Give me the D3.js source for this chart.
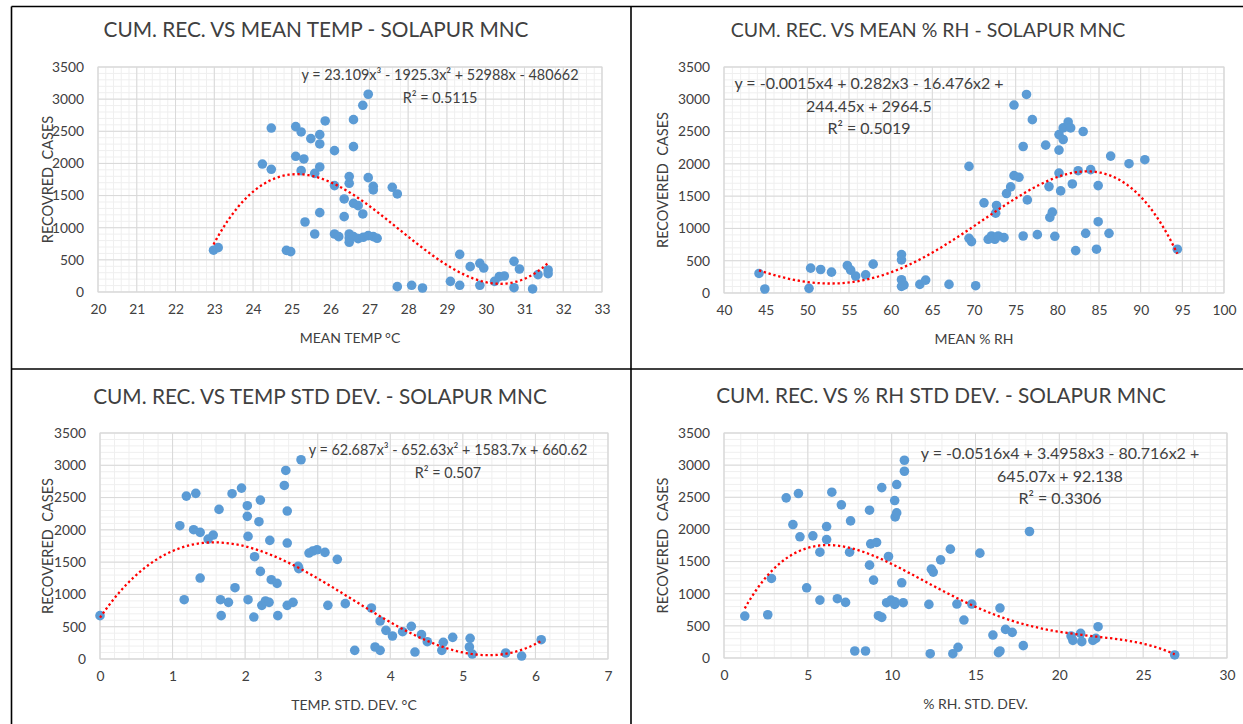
<!DOCTYPE html>
<html>
<head>
<meta charset="utf-8">
<script src="https://cdn.jsdelivr.net/npm/d3@7"></script>
<style>
  body { margin: 0; background: #fff; }
  text { font-family: Lato, "Open Sans", sans-serif; white-space: pre; }
</style>
</head>
<body>
<svg id="chart" width="1243" height="724"></svg>
<script>
// mean temperature vs recovered cases
const meanTemp = [22.98, 23.1, 24.24, 24.47, 24.47, 24.86, 24.97, 25.1, 25.1, 25.24, 25.24, 25.31, 25.34, 25.49,
  25.59, 25.59, 25.72, 25.72, 25.72, 25.72, 25.86, 26.1, 26.1, 26.1, 26.21, 26.35, 26.35, 26.48, 26.48, 26.48,
  26.48, 26.48, 26.59, 26.59, 26.59, 26.59, 26.71, 26.71, 26.83, 26.83, 26.84, 26.97, 26.97, 26.97, 27.1, 27.1,
  27.1, 27.2, 27.59, 27.72, 27.72, 28.09, 28.37, 29.09, 29.33, 29.33, 29.6, 29.85, 29.95, 29.85, 30.23, 30.35,
  30.48, 30.73, 30.73, 30.87, 31.21, 31.35, 31.61, 31.61];
const recTemp = [650, 690, 1990, 2550, 1909, 648, 628, 2573, 2111, 2490, 1888, 2070, 1089, 2386,
  902, 1846, 2448, 2303, 1945, 1234, 2661, 2199, 1655, 902, 861, 1447, 1172, 1795, 1691, 902,
  840, 773, 2681, 2261, 1380, 861, 1343, 830, 2904, 1214, 851, 3076, 1779, 877, 1644, 1587,
  861, 835, 1629, 1525, 83, 104, 62, 166, 586, 104, 394, 446, 373, 104, 166, 239,
  249, 477, 67, 358, 47, 270, 342, 285];

// mean relative humidity vs recovered cases
const meanRH = [44.2, 44.9, 50.2, 50.4, 51.6, 52.9, 54.8, 55.2, 55.8, 57.0, 57.9, 61.3, 61.3, 61.3, 61.5, 61.3,
  61.6, 63.5, 64.2, 67.0, 69.4, 69.4, 69.7, 70.2, 71.2, 71.7, 72.1, 72.5, 72.6, 72.7, 72.9, 73.6, 73.9, 74.4,
  74.8, 74.8, 75.4, 75.9, 75.9, 76.3, 76.4, 77.0, 77.6, 78.6, 79.0, 79.1, 79.4, 79.7, 80.2, 80.2, 80.2, 80.4,
  80.7, 80.7, 81.3, 81.6, 81.8, 82.2, 82.5, 83.1, 83.4, 84.0, 84.7, 84.9, 84.9, 86.2, 86.4, 88.6, 90.5, 94.4];
const recRH = [303, 62, 72, 385, 364, 323, 426, 354, 262, 282, 447, 595, 513, 205, 139, 103,
  123, 133, 200, 133, 1961, 847, 796, 113, 1396, 832, 883, 832, 1237, 1355, 883, 857, 1540, 1643,
  2911, 1817, 1792, 2269, 883, 3075, 1442, 2685, 904, 2290, 1648, 1170, 1252, 878, 2454, 2213, 1858, 1581,
  2557, 2377, 2649, 2557, 1689, 657, 1894, 2500, 924, 1910, 678, 1663, 1104, 924, 2120, 2002, 2064, 678];

// temperature standard deviation vs recovered cases
const tempStd = [0, 1.10, 1.16, 1.19, 1.29, 1.32, 1.38, 1.38, 1.49, 1.56, 1.64, 1.66, 1.67, 1.77, 1.82, 1.86,
  1.95, 2.03, 2.03, 2.04, 2.04, 2.12, 2.13, 2.19, 2.21, 2.21, 2.23, 2.28, 2.33, 2.34, 2.36, 2.44, 2.45, 2.54,
  2.56, 2.58, 2.58, 2.58, 2.66, 2.73, 2.74, 2.77, 2.88, 2.93, 2.99, 3.10, 3.14, 3.27, 3.38, 3.51, 3.74, 3.79,
  3.86, 3.86, 3.94, 4.03, 4.17, 4.29, 4.34, 4.43, 4.51, 4.71, 4.73, 4.86, 5.09, 5.10, 5.13, 5.59, 5.81, 6.08];
const recTempStd = [671, 2064, 918, 2523, 2002, 2565, 1961, 1254, 1858, 1920, 2317, 918, 671, 877, 2560, 1104,
  2647, 2374, 2209, 1899, 918, 650, 1584, 2126, 2461, 1357, 831, 898, 877, 1837, 1228, 1171, 671, 2688,
  2920, 831, 2291, 1796, 877, 1434, 1398, 3086, 1641, 1672, 1692, 1651, 831, 1543, 857, 134, 790, 186,
  588, 134, 444, 356, 423, 506, 108, 377, 268, 134, 258, 335, 186, 320, 77, 93, 46, 299];

// relative humidity standard deviation vs recovered cases
const rhStd = [1.24, 2.61, 2.83, 3.71, 4.11, 4.44, 4.53, 4.93, 5.30, 5.72, 5.72, 6.12, 6.12, 6.43, 6.76, 7.0,
  7.25, 7.55, 7.49, 7.80, 8.44, 8.68, 8.68, 8.75, 9.10, 8.92, 9.21, 9.41, 9.41, 9.70, 9.81, 9.96, 10.18, 10.18,
  10.18, 10.21, 10.30, 10.30, 10.60, 10.69, 10.76, 10.76, 12.22, 12.30, 12.37, 12.48, 12.92, 13.50, 13.65, 13.89,
  13.96, 14.31, 14.78, 15.26, 16.04, 16.37, 16.46, 16.46, 16.79, 17.19, 17.85, 18.22, 20.70, 20.81, 21.27, 21.34,
  22.0, 22.18, 22.31, 26.88];
const recRhStd = [652, 673, 1237, 2491, 2076, 2558, 1885, 1092, 1900, 1646, 901, 2045, 1843, 2579, 922, 2382,
  865, 2133, 1646, 109, 109, 2299, 1444, 1776, 1797, 1212, 658, 632, 2651, 860, 1579, 901, 875, 834,
  2449, 2195, 2257, 2698, 1170, 860, 3076, 2905, 834, 67, 1382, 1336, 1527, 1693, 67, 839,
  166, 590, 839, 1631, 357, 83, 109, 777, 445, 399, 192, 1968, 342, 274, 383, 254,
  274, 305, 487, 47];

const titles = [
  "CUM. REC. VS MEAN TEMP - SOLAPUR MNC",
  "CUM. REC. VS MEAN % RH - SOLAPUR MNC",
  "CUM. REC. VS TEMP STD DEV. - SOLAPUR MNC",
  "CUM. REC. VS % RH STD DEV. - SOLAPUR MNC"
];
const xTitles = ["MEAN TEMP \u00B0C", "MEAN % RH", "TEMP. STD. DEV. \u00B0C", "% RH. STD. DEV."];
const yTitles = ["RECOVRED  CASES", "RECOVERED  CASES", "RECOVERED  CASES", "RECOVERED  CASES"];
const equations = [
  ["y = 23.109x\u00B3 - 1925.3x\u00B2 + 52988x - 480662", "R\u00B2 = 0.5115"],
  ["y = -0.0015x4 + 0.282x3 - 16.476x2 +", "244.45x + 2964.5", "R\u00B2 = 0.5019"],
  ["y = 62.687x\u00B3 - 652.63x\u00B2 + 1583.7x + 660.62", "R\u00B2 = 0.507"],
  ["y = -0.0516x4 + 3.4958x3 - 80.716x2 +", "645.07x + 92.138", "R\u00B2 = 0.3306"]
];
const xDomains = [[20, 33], [40, 100], [0, 7], [0, 30]];
const xSteps = [1, 5, 1, 5];
const yDomain = [0, 3500];
const yStep = 500;
const fitDegrees = [3, 4, 3, 4];

const svg = d3.select("#chart");

// panel frames
const frame = svg.append("g")
    .attr("stroke", "#000")
    .attr("stroke-width", 1.6)
frame.append("line").attr("x1", 11.5).attr("y1", 6.5).attr("x2", 1243).attr("y2", 6.5)
frame.append("line").attr("x1", 11.5).attr("y1", 6.5).attr("x2", 11.5).attr("y2", 724)
frame.append("line").attr("x1", 631).attr("y1", 6.5).attr("x2", 631).attr("y2", 724)
frame.append("line").attr("x1", 11.5).attr("y1", 369).attr("x2", 1243).attr("y2", 369)

// least squares polynomial, x normalised to keep it stable
function polyFit(xs, ys, deg) {
    const m = d3.mean(xs), s = d3.deviation(xs);
    const n = deg + 1;
    const A = Array.from({length: n}, () => new Array(n + 1).fill(0));
    xs.forEach((x, k) => {
        const t = (x - m) / s;
        const p = [];
        for (let i = 0; i < n; i++) p.push(Math.pow(t, i));
        for (let i = 0; i < n; i++) {
            for (let j = 0; j < n; j++) A[i][j] += p[i] * p[j];
            A[i][n] += p[i] * ys[k];
        }
    });
    for (let c = 0; c < n; c++) {
        let piv = c;
        for (let r = c + 1; r < n; r++) if (Math.abs(A[r][c]) > Math.abs(A[piv][c])) piv = r;
        [A[c], A[piv]] = [A[piv], A[c]];
        for (let r = 0; r < n; r++) {
            if (r === c) continue;
            const f = A[r][c] / A[c][c];
            for (let j = c; j <= n; j++) A[r][j] -= f * A[c][j];
        }
    }
    const coef = A.map((row, i) => row[n] / row[i]);
    return x => {
        const t = (x - m) / s;
        return coef.reduce((acc, c, i) => acc + c * Math.pow(t, i), 0);
    };
}

const panels = [
    {xs: meanTemp, ys: recTemp, left: 98, right: 602, top: 67, bottom: 292, cx: 316, titleY: 37, titleSize: 20.8,
        yTitleX: 48, eqX: 440, eqY: 80, eqSize: 14.4},
    {xs: meanRH, ys: recRH, left: 724, right: 1224, top: 67, bottom: 293, cx: 928, titleY: 37, titleSize: 19.5,
        yTitleX: 663, eqX: 869, eqY: 89, eqSize: 16},
    {xs: tempStd, ys: recTempStd, left: 100, right: 608, top: 433, bottom: 659, cx: 320, titleY: 404, titleSize: 20.8,
        yTitleX: 48, eqX: 448, eqY: 455, eqSize: 14.4},
    {xs: rhStd, ys: recRhStd, left: 724, right: 1227, top: 433, bottom: 658, cx: 941, titleY: 403, titleSize: 20.8,
        yTitleX: 663, eqX: 1060, eqY: 459, eqSize: 16}
];

panels.forEach((p, i) => {
    const g = svg.append("g");
    const x = d3.scaleLinear().domain(xDomains[i]).range([p.left, p.right]);
    const y = d3.scaleLinear().domain(yDomain).range([p.bottom, p.top]);

    const xMinor = d3.range(xDomains[i][0], xDomains[i][1] + 1e-9, xSteps[i] / 5);
    const yMinor = d3.range(yDomain[0], yDomain[1] + 1e-9, yStep / 5);
    const xMajor = d3.range(xDomains[i][0], xDomains[i][1] + 1e-9, xSteps[i]);
    const yMajor = d3.range(yDomain[0], yDomain[1] + 1e-9, yStep);

    // minor gridlines
    g.append("g").selectAll("line").data(xMinor).join("line")
        .attr("x1", d => x(d)).attr("x2", d => x(d))
        .attr("y1", p.top).attr("y2", p.bottom)
        .attr("stroke", "#efefef").attr("stroke-width", 1)
    g.append("g").selectAll("line").data(yMinor).join("line")
        .attr("x1", p.left).attr("x2", p.right)
        .attr("y1", d => y(d)).attr("y2", d => y(d))
        .attr("stroke", "#efefef").attr("stroke-width", 1)

    // major gridlines
    g.append("g").selectAll("line").data(xMajor).join("line")
        .attr("x1", d => x(d)).attr("x2", d => x(d))
        .attr("y1", p.top).attr("y2", p.bottom)
        .attr("stroke", "#d9d9d9").attr("stroke-width", 1)
    g.append("g").selectAll("line").data(yMajor).join("line")
        .attr("x1", p.left).attr("x2", p.right)
        .attr("y1", d => y(d)).attr("y2", d => y(d))
        .attr("stroke", "#d9d9d9").attr("stroke-width", 1)

    g.append("rect")
        .attr("x", p.left).attr("y", p.top)
        .attr("width", p.right - p.left).attr("height", p.bottom - p.top)
        .attr("fill", "none").attr("stroke", "#d9d9d9")

    // axes (labels only, Excel style)
    const xAxis = g.append("g")
        .attr("transform", `translate(0,${p.bottom})`)
        .call(d3.axisBottom(x).tickValues(xMajor).tickSize(0).tickPadding(12).tickFormat(d3.format("d")))
    const yAxis = g.append("g")
        .attr("transform", `translate(${p.left},0)`)
        .call(d3.axisLeft(y).tickValues(yMajor).tickSize(0).tickPadding(14).tickFormat(d3.format("d")))
    ;[xAxis, yAxis].forEach(a => {
        a.select(".domain").remove();
        a.selectAll("text")
            .style("font-family", "Lato, sans-serif")
            .style("font-size", "13.8px")
            .attr("fill", "#404040")
    })

    // points
    g.append("g").selectAll("circle")
        .data(p.xs.map((d, k) => [d, p.ys[k]]))
        .join("circle")
        .attr("cx", d => x(d[0]))
        .attr("cy", d => y(d[1]))
        .attr("r", 4.8)
        .attr("fill", "#5b9bd5")

    // polynomial trendline
    const f = polyFit(p.xs, p.ys, fitDegrees[i]);
    const [lo, hi] = d3.extent(p.xs);
    const samples = d3.range(0, 121).map(k => lo + (hi - lo) * k / 120);
    g.append("path")
        .datum(samples)
        .attr("d", d3.line().x(d => x(d)).y(d => y(f(d))))
        .attr("fill", "none")
        .attr("stroke", "#ff0000")
        .attr("stroke-width", 2.3)
        .attr("stroke-dasharray", "2.3,2.7")

    // titles
    g.append("text")
        .attr("x", p.cx).attr("y", p.titleY)
        .attr("text-anchor", "middle")
        .style("font-size", p.titleSize + "px")
        .attr("fill", "#404040")
        .text(titles[i])
    g.append("text")
        .attr("x", (p.left + p.right) / 2).attr("y", p.bottom + 51)
        .attr("text-anchor", "middle")
        .style("font-size", "14px")
        .attr("fill", "#404040")
        .text(xTitles[i])
    g.append("text")
        .attr("transform", `translate(${p.yTitleX + 5},${(p.top + p.bottom) / 2}) rotate(-90)`)
        .attr("text-anchor", "middle")
        .style("font-size", "14.5px")
        .attr("fill", "#404040")
        .text(yTitles[i])

    // equation label
    g.append("g").selectAll("text")
        .data(equations[i])
        .join("text")
        .attr("x", p.eqX)
        .attr("y", (d, k) => p.eqY + k * 22.5)
        .attr("text-anchor", "middle")
        .style("font-size", p.eqSize + "px")
        .attr("fill", "#404040")
        .text(d => d)
});
</script>
</body>
</html>
